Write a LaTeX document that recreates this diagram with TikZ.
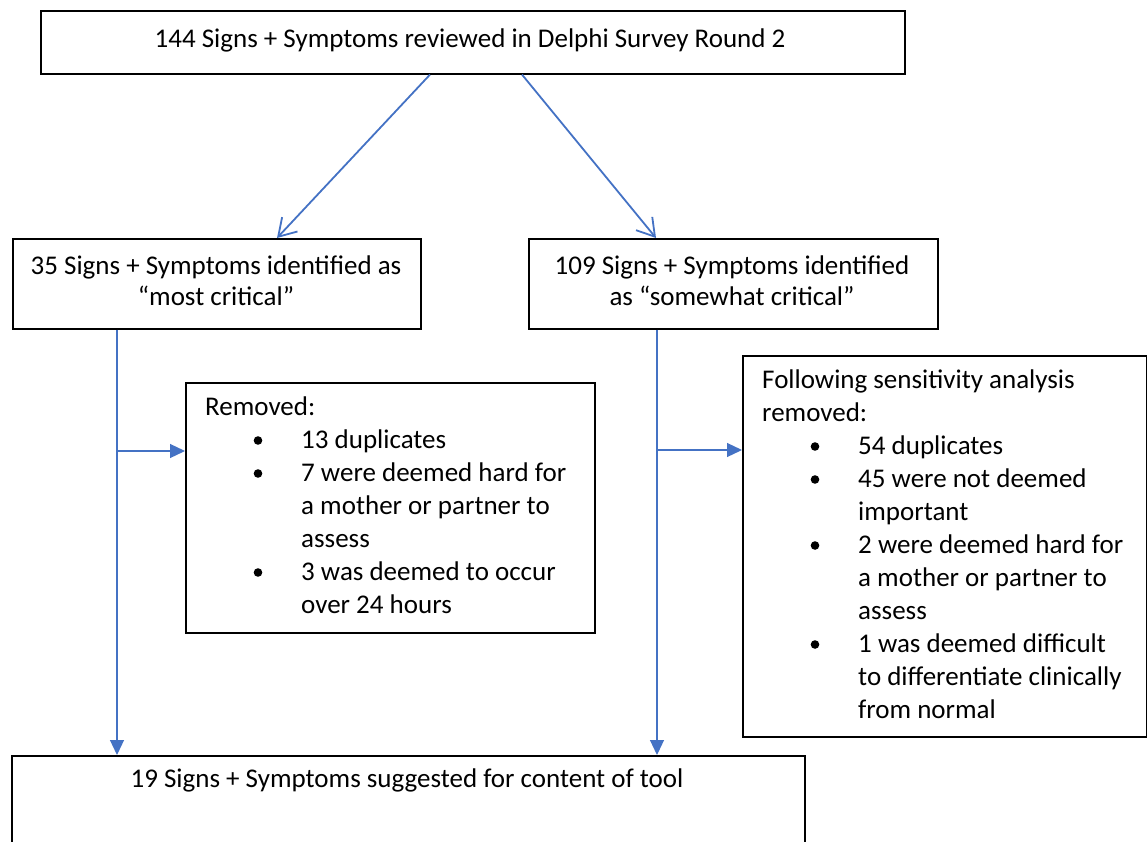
\documentclass[tikz,border=0pt]{standalone}
\usepackage{fontspec}
\setmainfont{Carlito}
\usetikzlibrary{arrows.meta}
\definecolor{arrowblue}{HTML}{4472C4}
\begin{document}
\begin{tikzpicture}[x=1pt,y=-1pt,
  box/.style={draw=black, line width=1.6pt, rectangle, inner sep=0pt, anchor=north west},
  txt/.style={inner sep=0pt, font=\fontsize{27}{33}\selectfont},
  ctr/.style={txt, anchor=base},
  lft/.style={txt, anchor=base west},
  barb/.style={draw=arrowblue, line width=1.8pt, -{Straight Barb[length=17pt,width=21pt,line width=1.8pt]}},
  flow/.style={draw=arrowblue, line width=1.2pt, -{Triangle[length=15pt,width=14pt]}},
  bullet/.style={fill=black}
]
\useasboundingbox (0,0) rectangle (1147,842);
\clip (0,0) rectangle (1147,842);

% boxes
\node[box, minimum width=864pt, minimum height=63pt] (T) at (40,10) {};
\node[box, minimum width=408pt, minimum height=90pt] (L) at (12,238) {};
\node[box, minimum width=409pt, minimum height=90pt] (R) at (528,238) {};
\node[box, minimum width=409pt, minimum height=250pt] (RM1) at (185,382) {};
\node[box, minimum width=404pt, minimum height=381pt] (RM2) at (742,355) {};
\node[box, minimum width=793pt, minimum height=140pt] (B) at (11,755) {};

% texts
\node[ctr] (tT) at (470,48) {144 Signs + Symptoms reviewed in Delphi Survey Round 2};
\node[ctr] (tL1) at (216,274) {35 Signs + Symptoms identified as};
\node[ctr] (tL2) at (216,305) {“most critical”};
\node[ctr] (tR1) at (732,274) {109 Signs + Symptoms identified};
\node[ctr] (tR2) at (732,305) {as “somewhat critical”};
\node[ctr] (tB) at (407,787) {19 Signs + Symptoms suggested for content of tool};

% removed list (left)
\node[lft] (a0) at (205,415) {Removed:};
\node[lft] (a1) at (301,448) {13 duplicates};
\node[lft] (a2) at (301,481) {7 were deemed hard for};
\node[lft] (a3) at (301,514) {a mother or partner to};
\node[lft] (a4) at (301,547) {assess};
\node[lft] (a5) at (301,580) {3 was deemed to occur};
\node[lft] (a6) at (301,613) {over 24 hours};
\foreach \yy in {448,481,580} \fill[bullet] (258,\yy-7.5) circle (4.3pt);

% removed list (right)
\node[lft] (b0) at (762,388) {Following sensitivity analysis};
\node[lft] (b1) at (762,421) {removed:};
\node[lft] (b2) at (858,454) {54 duplicates};
\node[lft] (b3) at (858,487) {45 were not deemed};
\node[lft] (b4) at (858,520) {important};
\node[lft] (b5) at (858,553) {2 were deemed hard for};
\node[lft] (b6) at (858,586) {a mother or partner to};
\node[lft] (b7) at (858,619) {assess};
\node[lft] (b8) at (858,652) {1 was deemed difficult};
\node[lft] (b9) at (858,685) {to differentiate clinically};
\node[lft] (b10) at (858,718) {from normal};
\foreach \yy in {454,487,553,652} \fill[bullet] (815,\yy-7.5) circle (4.3pt);

% connector anchors
\coordinate (t1) at (430,0);
\coordinate (t2) at (522,0);
\coordinate (l1) at (277,0);
\coordinate (r1) at (656,0);
\coordinate (lx) at (117,0);
\coordinate (rx) at (657,0);
\coordinate (j1) at (117,451);
\coordinate (j2) at (657,450);

% connectors
\draw[barb] (T.south -| t1) -- (L.north -| l1);
\draw[barb] (T.south -| t2) -- (R.north -| r1);
\draw[flow] (L.south -| lx) -- (B.north -| lx);
\draw[flow] (R.south -| rx) -- (B.north -| rx);
\draw[flow] (j1) -- (j1 -| RM1.west);
\draw[flow] (j2) -- (j2 -| RM2.west);
\end{tikzpicture}
\end{document}
